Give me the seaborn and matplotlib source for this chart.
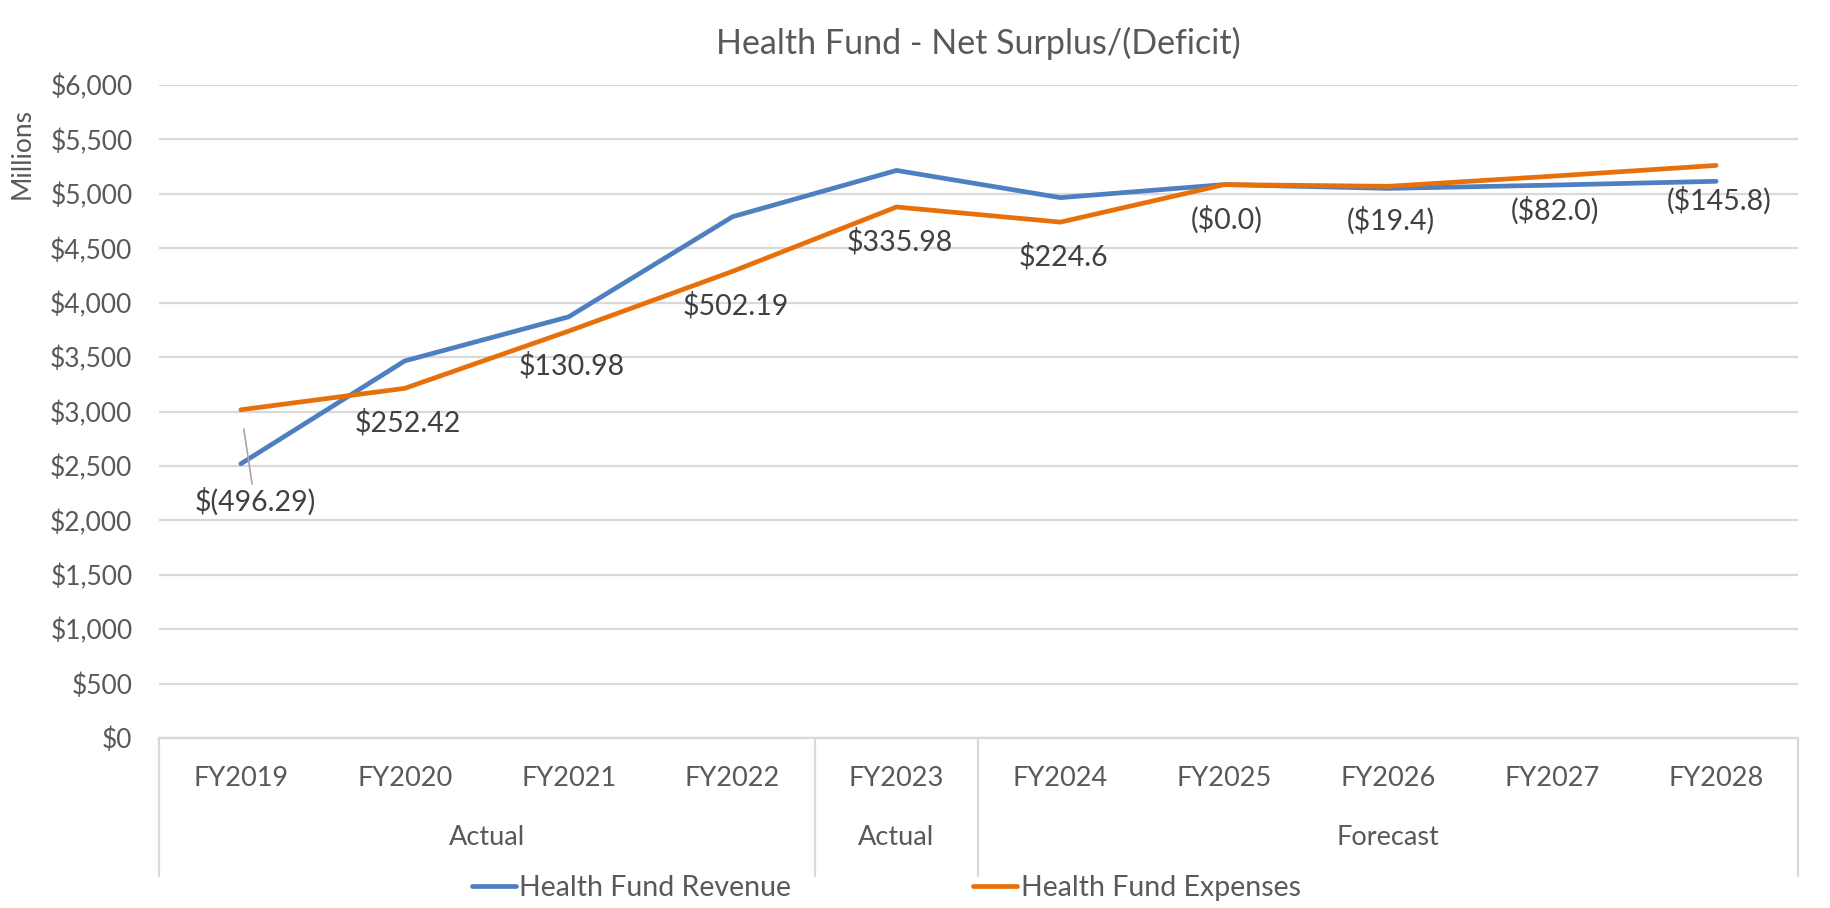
import numpy as np
import pandas as pd
import matplotlib
matplotlib.use("Agg")
import matplotlib.pyplot as plt
import matplotlib.transforms as mtransforms
import seaborn as sns

# data (millions)
years = ['FY2019', 'FY2020', 'FY2021', 'FY2022', 'FY2023',
         'FY2024', 'FY2025', 'FY2026', 'FY2027', 'FY2028']
revenue = [2520, 3465, 3870, 4790, 5215, 4965, 5085, 5050, 5080, 5115]
expenses = [3016, 3213, 3739, 4288, 4879, 4740, 5085, 5069, 5162, 5261]
surplus_labels = ['$(496.29)', '$252.42', '$130.98', '$502.19', '$335.98',
                  '$224.6', '($0.0)', '($19.4)', '($82.0)', '($145.8)']
groups = ['Actual', 'Actual', 'Forecast']
group_sizes = [4, 1, 5]

GREY = '#595959'
BLUE = '#4E7FC0'
ORANGE = '#E8700A'

sns.set_style('white')
plt.rcParams['font.family'] = ['Lato', 'DejaVu Sans']
plt.rcParams['text.color'] = GREY

df = pd.DataFrame({'pos': list(range(len(years))) * 2,
                   'value': revenue + expenses,
                   'series': ['Health Fund Revenue'] * len(years) + ['Health Fund Expenses'] * len(years)})

fig = plt.figure(figsize=(18.31, 9.08), dpi=100)
ax = fig.add_axes([0.0868, 0.1872, 0.8952, 0.7192])
sns.lineplot(data=df, x='pos', y='value', hue='series', palette=[BLUE, ORANGE],
             linewidth=3.4, ax=ax, legend=True)

ax.set_xlim(-0.5, len(years) - 0.5)
ax.set_ylim(0, 6000)
ax.set_yticks(np.arange(0, 6001, 500))
ax.set_yticklabels(['${:,.0f}'.format(v) for v in np.arange(0, 6001, 500)],
                   fontsize=19, color=GREY)
ax.yaxis.grid(True, color='#d9d9d9', linewidth=1.6)
ax.set_axisbelow(True)
ax.set_xticks([])
ax.set_xlabel('')
ax.set_ylabel('Millions', fontsize=19, color=GREY)
ax.yaxis.set_label_coords(-0.076, 0.895)
ax.tick_params(axis='y', length=0, pad=19)
for s in ['top', 'right', 'left']:
    ax.spines[s].set_visible(False)
ax.spines['bottom'].set_color('#d9d9d9')
ax.spines['bottom'].set_linewidth(1.6)

ax.set_title('Health Fund - Net Surplus/(Deficit)', fontsize=24.5, color=GREY, pad=22)

# surplus labels under the expense line
for i, txt in enumerate(surplus_labels):
    if i == 0:
        ax.annotate(txt, xy=(i, expenses[i]), xytext=(10, -66), textcoords='offset points',
                    ha='center', va='center', fontsize=20.5, color='#404040',
                    arrowprops=dict(arrowstyle='-', color='#a6a6a6', lw=1.2,
                                    shrinkA=0, shrinkB=14))
    else:
        ax.annotate(txt, xy=(i, expenses[i]), xytext=(2, -25), textcoords='offset points',
                    ha='center', va='center', fontsize=20.5, color='#404040')

# two-level category axis
trans = mtransforms.blended_transform_factory(ax.transData, ax.transAxes)
for i, y in enumerate(years):
    ax.text(i, -0.062, y, transform=trans, ha='center', va='center', fontsize=19.5, color=GREY)
edges = np.concatenate([[0], np.cumsum(group_sizes)]) - 0.5
for k, g in enumerate(groups):
    ax.text((edges[k] + edges[k + 1]) / 2, -0.153, g, transform=trans,
            ha='center', va='center', fontsize=19.5, color=GREY)
for e in edges:
    ax.plot([e, e], [0, -0.212], transform=trans, color='#d9d9d9', lw=1.6, clip_on=False)

handles, labels = ax.get_legend_handles_labels()
ax.get_legend().remove()
fig.legend(handles, labels, loc='center', bbox_to_anchor=(0.484, 0.022), ncol=2,
           frameon=False, fontsize=20.5, handlelength=1.55, handletextpad=0.12,
           columnspacing=6.4)

fig.savefig('out.png', dpi=100)
